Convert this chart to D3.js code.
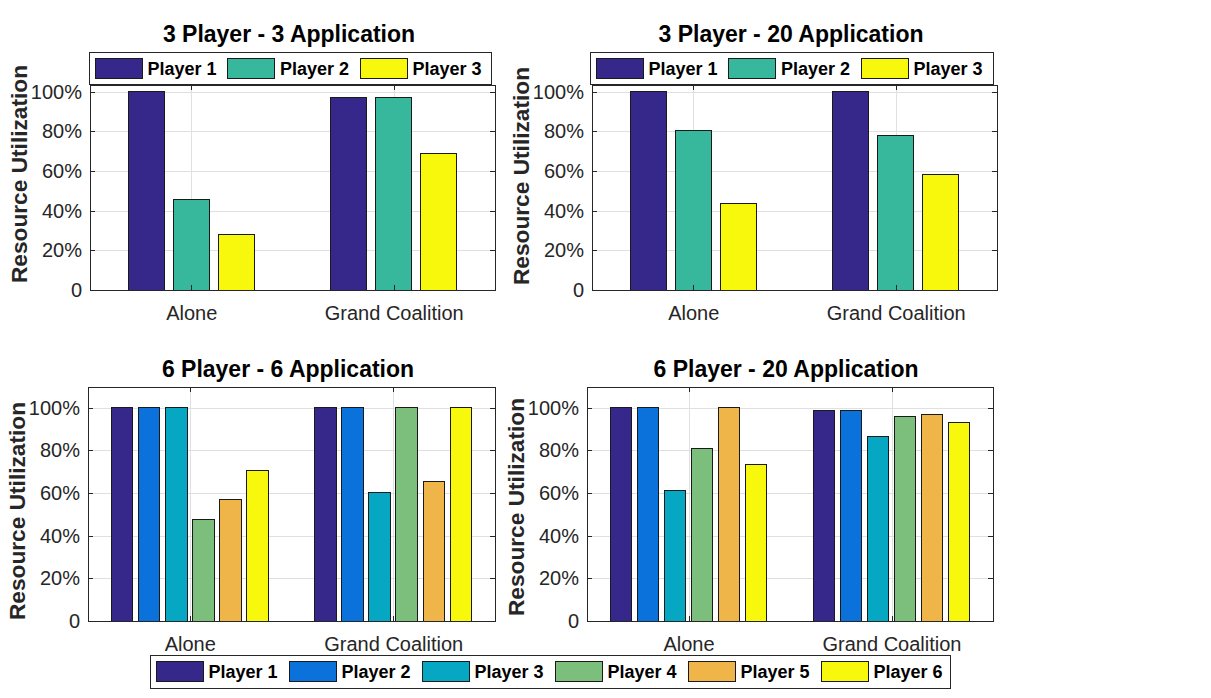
<!DOCTYPE html>
<html>
<head>
<meta charset="utf-8">
<script src="https://cdn.jsdelivr.net/npm/d3@7"></script>
<style>
  body { margin: 0; background: #fff; }
  svg { display: block; font-family: "Liberation Sans", Arial, Helvetica, sans-serif; }
  .grid line { stroke: #e0e0e0; shape-rendering: crispEdges; }
  .grid path { display: none; }
  .axis text { fill: #262626; font-size: 20px; font-family: "Liberation Sans", Arial, sans-serif; }
  .axis line, .axis path { stroke: #262626; shape-rendering: crispEdges; }
  .bar { stroke: #1a1a1a; stroke-width: 1; shape-rendering: crispEdges; }
</style>
</head>
<body>
<div id="chart"></div>
<script>
// Categories and series
const categories = ["Alone", "Grand Coalition"];
const players3 = ["Player 1", "Player 2", "Player 3"];
const players6 = ["Player 1", "Player 2", "Player 3", "Player 4", "Player 5", "Player 6"];
const colors3 = ["#36288a", "#37b89d", "#f8f80d"];
const colors6 = ["#36288a", "#0b72dc", "#05a7c2", "#7cbe7c", "#f0b548", "#f8f80d"];
const yTicks = [0, 0.2, 0.4, 0.6, 0.8, 1.0];
const yTickLabels = ["0", "20%", "40%", "60%", "80%", "100%"];

// Resource utilization: one row per category, one value per player
const util3p3a = [[1.00, 0.457, 0.282], [0.972, 0.972, 0.686]];
const util3p20a = [[1.00, 0.802, 0.435], [1.00, 0.780, 0.582]];
const util6p6a = [[1.00, 1.00, 1.00, 0.475, 0.571, 0.707], [1.00, 1.00, 0.603, 1.00, 0.654, 1.00]];
const util6p20a = [[1.00, 1.00, 0.614, 0.809, 1.00, 0.732], [0.989, 0.986, 0.865, 0.959, 0.967, 0.931]];

const titles = ["3 Player - 3 Application", "3 Player - 20 Application",
                "6 Player - 6 Application", "6 Player - 20 Application"];

const svg = d3.select("#chart")
    .append("svg")
    .attr("width", 1211)
    .attr("height", 698);

svg.append("rect").attr("width", 1211).attr("height", 698).attr("fill", "#fff");

// Panel layout (pixels)
const panels = [
    { title: titles[0], values: util3p3a, players: players3, colors: colors3,
      left: 90, right: 495, top: 84.5, bottom: 290, yMax: 1.036,
      titleX: 289, titleY: 42, labelX: 27, labelY: 174 },
    { title: titles[1], values: util3p20a, players: players3, colors: colors3,
      left: 592, right: 997, top: 84.5, bottom: 290, yMax: 1.036,
      titleX: 791, titleY: 42, labelX: 529, labelY: 176 },
    { title: titles[2], values: util6p6a, players: players6, colors: colors6,
      left: 88, right: 495, top: 386.5, bottom: 621, yMax: 1.1,
      titleX: 288, titleY: 377, labelX: 25, labelY: 511 },
    { title: titles[3], values: util6p20a, players: players6, colors: colors6,
      left: 587, right: 993, top: 386.5, bottom: 621, yMax: 1.1,
      titleX: 786, titleY: 377, labelX: 524, labelY: 507 }
];

panels.forEach(drawPanel);

// Legends
drawLegend(89, 52.5, 402.5, 32, players3, colors3, 132.5);
drawLegend(590, 52.5, 403, 32, players3, colors3, 132.5);
drawLegend(150, 655, 800.5, 33.5, players6, colors6, 133);

function drawPanel(p) {
    const g = svg.append("g");
    const x = d3.scaleLinear().domain([0.5, 2.5]).range([p.left, p.right]);
    const y = d3.scaleLinear().domain([0, p.yMax]).range([p.bottom, p.top]);
    const catTicks = categories.map((c, i) => i + 1);

    // grid
    g.append("g").attr("class", "grid")
        .attr("transform", `translate(${p.left},0)`)
        .call(d3.axisLeft(y).tickValues(yTicks.slice(1)).tickSize(-(p.right - p.left)).tickFormat(""));
    g.append("g").attr("class", "grid")
        .attr("transform", `translate(0,${p.bottom})`)
        .call(d3.axisBottom(x).tickValues(catTicks).tickSize(-(p.bottom - p.top)).tickFormat(""));

    // grouped bars (MATLAB-like group spacing)
    const n = p.players.length;
    const groupWidth = Math.min(0.8, n / (n + 1.5));
    const pitch = groupWidth / n;
    const barW = 0.8 * pitch;
    p.values.forEach((row, ci) => {
        g.selectAll(null)
            .data(row)
            .enter()
            .append("rect")
            .attr("class", "bar")
            .attr("x", (d, i) => x(ci + 1 + (i - (n - 1) / 2) * pitch - barW / 2))
            .attr("width", x(0.5 + barW) - x(0.5))
            .attr("y", d => y(d))
            .attr("height", d => y(0) - y(d))
            .attr("fill", (d, i) => p.colors[i]);
    });

    // axes: inward ticks on all four sides
    g.append("g").attr("class", "axis")
        .attr("transform", `translate(${p.left},0)`)
        .call(d3.axisLeft(y).tickValues(yTicks).tickFormat((d, i) => yTickLabels[i])
            .tickSizeInner(-5).tickSizeOuter(0).tickPadding(8));
    g.append("g").attr("class", "axis")
        .attr("transform", `translate(${p.right},0)`)
        .call(d3.axisRight(y).tickValues(yTicks).tickFormat("").tickSizeInner(-5).tickSizeOuter(0));
    g.append("g").attr("class", "axis")
        .attr("transform", `translate(0,${p.bottom})`)
        .call(d3.axisBottom(x).tickValues(catTicks).tickFormat(d => categories[d - 1])
            .tickSizeInner(-5).tickSizeOuter(0).tickPadding(16));
    g.append("g").attr("class", "axis")
        .attr("transform", `translate(0,${p.top})`)
        .call(d3.axisTop(x).tickValues(catTicks).tickFormat("").tickSizeInner(-5).tickSizeOuter(0));

    // title
    g.append("text")
        .attr("x", p.titleX)
        .attr("y", p.titleY)
        .attr("text-anchor", "middle")
        .style("font-size", "23px")
        .style("font-weight", "bold")
        .attr("fill", "#000")
        .text(p.title);

    // y label
    g.append("text")
        .attr("transform", `translate(${p.labelX},${p.labelY}) rotate(-90)`)
        .attr("text-anchor", "middle")
        .style("font-size", "22.7px")
        .style("font-weight", "bold")
        .attr("fill", "#262626")
        .text("Resource Utilization");
}

function drawLegend(bx, by, bw, bh, names, colors, itemPitch) {
    const g = svg.append("g");
    g.append("rect")
        .attr("x", bx).attr("y", by)
        .attr("width", bw).attr("height", bh)
        .attr("fill", "#fff")
        .attr("stroke", "#262626")
        .attr("stroke-width", 1)
        .style("shape-rendering", "crispEdges");

    const swW = 47, swH = 20;
    const swY = by + (bh - swH) / 2;
    names.forEach((name, i) => {
        const sx = bx + 6 + i * itemPitch;
        g.append("rect")
            .attr("x", sx).attr("y", swY)
            .attr("width", swW).attr("height", swH)
            .attr("fill", colors[i])
            .attr("stroke", "#1a1a1a")
            .style("shape-rendering", "crispEdges");
        g.append("text")
            .attr("x", sx + 52.5)
            .attr("y", swY + swH / 2 + 6.5)
            .style("font-size", "18px")
            .style("font-weight", "bold")
            .attr("fill", "#000")
            .text(name);
    });
}
</script>
</body>
</html>
